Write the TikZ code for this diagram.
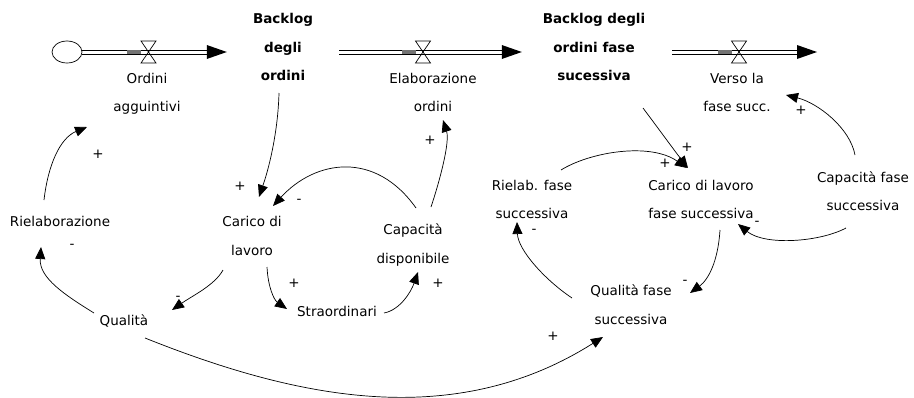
\documentclass[tikz,border=0pt]{standalone}
\usepackage{fontspec}
\setmainfont{DejaVu Sans}
\usetikzlibrary{arrows.meta,calc,shapes.geometric}
\newcommand{\vs}{\rule[-3pt]{0pt}{13pt}}
\begin{document}
\begin{tikzpicture}[x=1pt,y=-1pt,
  lbl/.style={font=\fontsize{13.5}{28.5}\selectfont, align=center, inner sep=0pt},
  stock/.style={lbl, font=\fontsize{13.5}{28.5}\selectfont\bfseries},
  sgn/.style={font=\fontsize{13.5}{16}\selectfont, inner sep=0pt},
  link/.style={line width=0.7pt, -{Triangle[length=12pt,width=10pt]}},
  pipeline/.style={draw, line width=0.75pt},
  valve/.style={draw, line width=0.7pt},
  ]
\useasboundingbox (0,0) rectangle (914,397);

% ---------- stocks, source, flows ----------
\node[draw, ellipse, line width=0.7pt, minimum width=30pt, minimum height=22pt, inner sep=0pt] (src) at (67,52) {};
\node[stock, minimum width=112pt] (backlog1) at (283,48.5) {\vs Backlog\\\vs degli\\\vs ordini};
\node[stock, minimum width=144pt] (backlog2) at (594,48.5) {\vs Backlog degli\\\vs ordini fase\\\vs sucessiva};
\coordinate (out3) at (817,52);

\coordinate (v1) at (148.5,52);
\coordinate (v2) at (423,52);
\coordinate (v3) at (739,52);

% pipe 1
\foreach \o in {-2,2}{
  \draw[pipeline] ($(src.east)+(0,\o)$) -- ($(backlog1.west |- src.east)+(-19,\o)$);
}
\fill (backlog1.west |- src.east) -- ++(-20,-7) -- ++(0,14) -- cycle;
% pipe 2
\foreach \o in {-2,2}{
  \draw[pipeline] ($(backlog1.east |- src.east)+(0,\o)$) -- ($(backlog2.west |- src.east)+(-19,\o)$);
}
\fill (backlog2.west |- src.east) -- ++(-20,-7) -- ++(0,14) -- cycle;
% pipe 3
\foreach \o in {-2,2}{
  \draw[pipeline] ($(backlog2.east |- src.east)+(6,\o)$) -- ($(out3)+(-19,\o)$);
}
\fill (out3) -- ++(-20,-7) -- ++(0,14) -- cycle;

\foreach \v in {v1,v2,v3}{
  \fill[black!55] ($(\v)+(-21.5,-2)$) rectangle ($(\v)+(-7.5,2)$);
  \draw[valve] ($(\v)+(-7.5,-11)$) -- ++(15,0) -- ++(-15,22) -- ++(15,0) -- cycle;
}

% ---------- flow labels ----------
\node[lbl] (ordagg) at (147,94) {\vs Ordini\\\vs agguintivi};
\node[lbl] (elab) at (433,94) {\vs Elaborazione\\\vs ordini};
\node[lbl] (verso) at (737,94) {\vs Verso la\\\vs fase succ.};

% ---------- auxiliaries ----------
\node[lbl] (riel) at (60,223) {\vs Rielaborazione};
\node[lbl] (carico) at (252,237.5) {\vs Carico di\\\vs lavoro};
\node[lbl] (capdisp) at (413,245) {\vs Capacità\\\vs disponibile};
\node[lbl] (straord) at (337,313) {\vs Straordinari};
\node[lbl] (qual) at (124,322) {\vs Qualità};
\node[lbl] (rielfs) at (532,201) {\vs Rielab. fase\\\vs successiva};
\node[lbl] (caricofs) at (701,201) {\vs Carico di lavoro\\\vs fase successiva};
\node[lbl] (capfs) at (863,192.5) {\vs Capacità fase\\\vs successiva};
\node[lbl] (qualfs) at (631,306) {\vs Qualità fase\\\vs successiva};

% ---------- links ----------
\draw[link] ($(backlog1)+(-4,44.5)$) .. controls +(-1,37) and +(11,-32) .. ($(carico)+(7,-40.5)$);
\draw[link] ($(capdisp)+(3,-37)$) .. controls +(-41,-58) and +(42,-46) .. ($(carico)+(21,-31.5)$);
\draw[link] ($(capdisp)+(18,-38)$) .. controls +(9,-27) and +(7,22) .. ($(elab)+(10,26)$);
\draw[link] ($(carico)+(15,29.5)$) .. controls +(1,20) and +(-13,-9) .. ($(straord)+(-50,-4)$);
\draw[link] ($(straord)+(47,0)$) .. controls +(16,-3) and +(-7,20) .. ($(capdisp)+(5,27)$);
\draw[link] ($(carico)+(-29,32.5)$) .. controls +(-8,15) and +(20,-14) .. ($(qual)+(48,-12)$);
\draw[link] ($(qual)+(-30,-9)$) .. controls +(-29,-18) and +(-2,31) .. ($(riel)+(-19,24)$);
\draw[link] ($(riel)+(-16,-23)$) .. controls +(4,-35) and +(-27,11) .. ($(ordagg)+(-60,33)$);
\draw[link] ($(backlog2)+(49,59.5)$) .. controls +(15,20) and +(-14,-18) .. ($(caricofs)+(-13,-33)$);
\draw[link] ($(rielfs)+(29,-31)$) .. controls +(29,-18) and +(-37,-26) .. ($(caricofs)+(-14,-33)$);
\draw[link] ($(capfs)+(-8,-37.5)$) .. controls +(-5,-27) and +(32,8) .. ($(verso)+(49,1)$);
\draw[link] ($(capfs)+(-17,35.5)$) .. controls +(-26,14) and +(27,22) .. ($(caricofs)+(37,23)$);
\draw[link] ($(caricofs)+(19,29)$) .. controls +(-2,32) and +(18,-13) .. ($(qualfs)+(59,-13)$);
\draw[link] ($(qualfs)+(-59,-8)$) .. controls +(-27,-18) and +(1,28) .. ($(rielfs)+(-15,21)$);
\draw[link] ($(qual)+(21,16)$) .. controls +(150,60) and +(-150,95) .. ($(qualfs)+(-28,31)$);

% ---------- polarity signs ----------
\node[sgn] (s1) at (98,154) {+};
\node[sgn] (s2) at (72,246) {-};
\node[sgn] (s3) at (240,186) {+};
\node[sgn] (s4) at (299,201) {-};
\node[sgn] (s5) at (430,140) {+};
\node[sgn] (s6) at (294,283) {+};
\node[sgn] (s7) at (438,283) {+};
\node[sgn] (s8) at (178,298) {-};
\node[sgn] (s9) at (687,147) {+};
\node[sgn] (s10) at (665,163) {+};
\node[sgn] (s11) at (801,110) {+};
\node[sgn] (s12) at (757,223) {-};
\node[sgn] (s13) at (685,282) {-};
\node[sgn] (s14) at (534,231) {-};
\node[sgn] (s15) at (553,336) {+};
\end{tikzpicture}
\end{document}
